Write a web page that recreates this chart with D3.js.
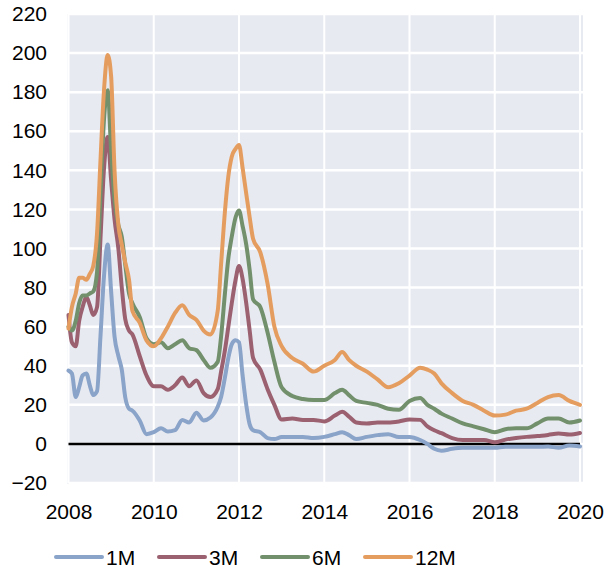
<!DOCTYPE html>
<html>
<head>
<meta charset="utf-8">
<script src="https://cdn.jsdelivr.net/npm/d3@7"></script>
<style>
  body { margin: 0; background: #fff; }
  svg text { font-family: "Liberation Sans", Arial, sans-serif; fill: #000; }
</style>
</head>
<body>
<script>
// dates as decimal years
var dates = [2008.0, 2008.08, 2008.17, 2008.25, 2008.33, 2008.42, 2008.5, 2008.58, 2008.67, 2008.75, 2008.83, 2008.92,
  2009.0, 2009.08, 2009.17, 2009.25, 2009.33, 2009.42, 2009.5, 2009.67, 2009.83,
  2010.0, 2010.17, 2010.33, 2010.5, 2010.67, 2010.83,
  2011.0, 2011.17, 2011.33, 2011.5, 2011.58, 2011.67, 2011.75, 2011.83, 2011.92,
  2012.0, 2012.08, 2012.17, 2012.25, 2012.33, 2012.5, 2012.67, 2012.83,
  2013.0, 2013.25, 2013.5, 2013.75,
  2014.0, 2014.25, 2014.42, 2014.58, 2014.75,
  2015.0, 2015.25, 2015.5, 2015.75,
  2016.0, 2016.25, 2016.42, 2016.58, 2016.75,
  2017.0, 2017.25, 2017.5, 2017.75,
  2018.0, 2018.25, 2018.5, 2018.75,
  2019.0, 2019.25, 2019.5, 2019.75, 2020.0];

var m1 = [37.5, 36, 24, 29, 35, 36, 30, 25, 27, 55, 85, 102,
  78, 55, 45, 38, 24, 18, 17, 12, 5,
  6, 8, 6.3, 7, 12.3, 11,
  16, 12, 13.5, 19, 24, 34, 44, 51, 53,
  52, 36, 20, 10, 7, 6, 3, 2.5,
  3.5, 3.6, 3.6, 3,
  3.6, 5, 6, 4.5, 2.5,
  3.6, 4.5, 5, 3.6,
  3.6, 2, 0, -2.5, -3.5,
  -2.5, -2, -2, -2,
  -2, -1.5, -1.5, -1.5,
  -1.5, -1.3, -2, -0.8, -1.3];

var m3 = [66, 52, 50, 63, 70, 75, 71, 66, 70, 105, 140, 157,
  135, 115, 100, 80, 64, 58, 56, 45, 35,
  29.5, 29.5, 27.7, 30, 34, 29.5,
  32.5, 26, 24, 28, 37, 48, 60, 72, 84,
  91, 85, 72, 58, 44, 38, 28, 20,
  12.5, 13, 12.3, 12.3,
  11.5, 14.5, 16.4, 14, 11,
  10.5, 11, 11, 11.5,
  12.5, 12.3, 9, 7, 5.5,
  3, 2, 2, 2,
  0.8, 2.2, 3, 3.6,
  4, 4.6, 5.3, 4.8, 5.6];

var m6 = [60, 58, 63, 72, 76, 76, 77, 78, 88, 128, 165, 181,
  150, 125, 112, 106, 92, 77, 72, 65, 54,
  51, 52, 49, 51, 53, 49,
  48, 43, 39, 42, 55, 77, 95, 106, 116,
  119.5, 112, 102, 89, 74, 70, 57, 42,
  29, 24.5, 23, 22.5,
  22.5, 26, 27.7, 25, 22,
  21, 20, 18, 17.5,
  22, 23.5, 20, 18, 15.5,
  13, 10.5, 9, 7.5,
  6, 7.5, 8, 8,
  10.5, 13, 13, 11, 12];

var m12 = [59, 70, 77, 85, 85, 84, 87, 91, 108, 145, 180, 199,
  188, 140, 112, 102, 93, 84, 68, 62, 53,
  50, 54, 60, 67, 71, 66,
  63.5, 58, 56, 68, 92, 119, 137, 147, 151,
  153, 142, 128, 116, 105, 98, 82, 60,
  50, 44, 41, 37,
  40, 43, 47, 43, 40,
  37, 33, 29, 31,
  35, 39, 38, 36, 31,
  26, 22, 20, 17,
  14.5, 15, 17, 18,
  21, 24, 25, 22, 20];

var seriesNames = ['1M', '3M', '6M', '12M'];
var seriesColors = ['#8aa3c9', '#9b6171', '#72906c', '#e59d5f'];
var seriesValues = [m1, m3, m6, m12];
var yTicks = d3.range(-20, 221, 20);
var xTicks = [2008, 2010, 2012, 2014, 2016, 2018, 2020];

var width = 615, height = 569;

var svg = d3.select('body').append('svg')
  .attr('width', width)
  .attr('height', height);

var x = d3.scaleLinear().domain([2008, 2020]).range([68.5, 580]);
var y = d3.scaleLinear().domain([-20, 220]).range([483, 14]);

// plot background
svg.append('rect')
  .attr('x', x(2008) - 1)
  .attr('y', y(220))
  .attr('width', x(2020) - x(2008) + 4)
  .attr('height', y(-20) - y(220) + 1)
  .attr('fill', '#e8eaf1');

// grid
svg.append('g').selectAll('line')
  .data(yTicks)
  .enter().append('line')
  .attr('x1', x(2008)).attr('x2', x(2020) + 3)
  .attr('y1', function(d){ return y(d); })
  .attr('y2', function(d){ return y(d); })
  .attr('stroke', '#fff')
  .attr('stroke-width', 2.5);

svg.append('g').selectAll('line')
  .data(xTicks)
  .enter().append('line')
  .attr('x1', function(d){ return x(d); })
  .attr('x2', function(d){ return x(d); })
  .attr('y1', y(220)).attr('y2', y(-20))
  .attr('stroke', '#fff')
  .attr('stroke-width', 2);

// zero line
svg.append('line')
  .attr('x1', x(2008)).attr('x2', x(2020))
  .attr('y1', y(0)).attr('y2', y(0))
  .attr('stroke', '#000')
  .attr('stroke-width', 2.5);

// axes labels via d3 axes, no domain/tick lines
var yAxis = svg.append('g')
  .attr('transform', 'translate(52,0)')
  .call(d3.axisLeft(y).tickValues(yTicks).tickSize(0).tickPadding(5));
yAxis.select('.domain').remove();
yAxis.selectAll('text')
  .attr('font-size', 21)
  .attr('font-family', '"Liberation Sans", Arial, sans-serif')
  .attr('fill', '#000');

var xAxis = svg.append('g')
  .attr('transform', 'translate(0,' + 500 + ')')
  .call(d3.axisBottom(x).tickValues(xTicks).tickFormat(d3.format('d')).tickSize(0).tickPadding(4));
xAxis.select('.domain').remove();
xAxis.selectAll('text')
  .attr('font-size', 21)
  .attr('font-family', '"Liberation Sans", Arial, sans-serif')
  .attr('fill', '#000');

// lines
var line = d3.line()
  .x(function(d){ return x(d[0]); })
  .y(function(d){ return y(d[1]); })
  .curve(d3.curveMonotoneX);

seriesValues.forEach(function(vals, i){
  svg.append('path')
    .datum(dates.map(function(t, j){ return [t, vals[j]]; }))
    .attr('d', line)
    .attr('fill', 'none')
    .attr('stroke', seriesColors[i])
    .attr('stroke-width', 4)
    .attr('stroke-linejoin', 'round')
    .attr('stroke-linecap', 'round');
});

// legend
var legendX = [56, 159, 262, 365];
var legend = svg.append('g').selectAll('g')
  .data(seriesNames)
  .enter().append('g')
  .attr('transform', function(d, i){ return 'translate(' + legendX[i] + ',557)'; });

legend.append('line')
  .attr('x1', 0).attr('x2', 46)
  .attr('stroke', function(d, i){ return seriesColors[i]; })
  .attr('stroke-width', 4)
  .attr('stroke-linecap', 'round');

legend.append('text')
  .attr('x', 50)
  .attr('y', 7.5)
  .attr('font-size', 21)
  .text(function(d){ return d; });
</script>
</body>
</html>
